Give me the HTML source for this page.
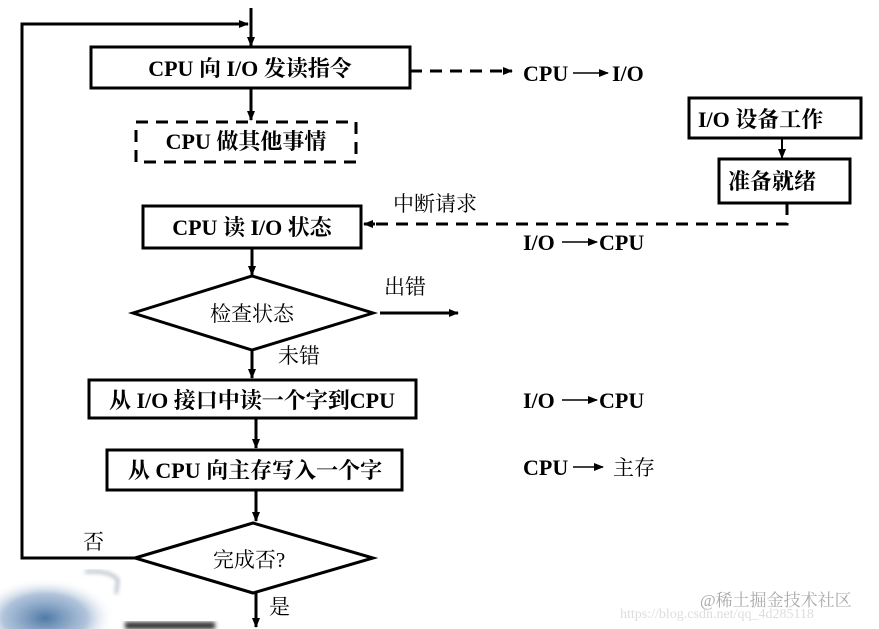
<!DOCTYPE html>
<html><head><meta charset="utf-8"><style>
html,body{margin:0;padding:0;background:#fff;}
svg{display:block;}
text{font-family:"Liberation Serif","Noto Serif CJK SC",serif;fill:#000;}
.b{font-weight:bold;}
</style></head><body>
<svg width="879" height="629" viewBox="0 0 879 629" xmlns="http://www.w3.org/2000/svg">
<defs>
<marker id="a" markerWidth="10" markerHeight="8" refX="9" refY="4" orient="auto" markerUnits="userSpaceOnUse">
<path d="M0,0 L10,4 L0,8 Z" fill="#000"/></marker>
<radialGradient id="g" cx="0.5" cy="0.5" r="0.5"><stop offset="0" stop-color="#4f79a6"/><stop offset="0.6" stop-color="#8eaacb" stop-opacity="0.7"/><stop offset="1" stop-color="#fff" stop-opacity="0"/></radialGradient>
<filter id="bl"><feGaussianBlur stdDeviation="2"/></filter>
</defs>
<ellipse cx="45" cy="618" rx="70" ry="40" fill="url(#g)"/>
<path d="M85,572 Q110,570 118,580 L116,594" fill="none" stroke="#8a98a8" stroke-width="2" filter="url(#bl)"/>
<rect x="125" y="622" width="90" height="7" fill="#333" filter="url(#bl)"/>
<g stroke="#000" stroke-width="3" fill="none">
<polyline points="135,558 22,558 22,24 246,24" />
<line x1="22" y1="24" x2="248" y2="24" marker-end="url(#a)"/>
<line x1="251" y1="8" x2="251" y2="46" marker-end="url(#a)"/>
<rect x="91" y="47" width="319" height="41"/>
<line x1="251" y1="88" x2="251" y2="120" marker-end="url(#a)"/>
<rect x="136" y="122" width="220" height="40" stroke-dasharray="12,8"/>
<line x1="410" y1="71" x2="512" y2="71" stroke-dasharray="12,8" marker-end="url(#a)"/>
<rect x="689" y="98" width="172" height="40"/>
<line x1="782" y1="138" x2="782" y2="158" stroke-width="2" marker-end="url(#a)"/>
<rect x="719" y="159" width="131" height="44"/>
<polyline points="787,203 787,224 365,224" stroke-dasharray="12,8"/>
<line x1="375" y1="224" x2="364" y2="224" marker-end="url(#a)"/>
<rect x="143" y="206" width="218" height="42"/>
<line x1="252" y1="248" x2="252" y2="275" marker-end="url(#a)"/>
<polygon points="133,313 252,276 373,313 252,350"/>
<line x1="380" y1="313" x2="458" y2="313" marker-end="url(#a)"/>
<line x1="252" y1="350" x2="252" y2="378" marker-end="url(#a)"/>
<rect x="89" y="380" width="327" height="38"/>
<line x1="256" y1="418" x2="256" y2="448" marker-end="url(#a)"/>
<rect x="107" y="450" width="295" height="40"/>
<line x1="256" y1="490" x2="256" y2="521" marker-end="url(#a)"/>
<polygon points="135,558 253,523 373,558 253,593"/>
<line x1="256" y1="593" x2="256" y2="627" marker-end="url(#a)"/>
</g>
<g stroke="#000" stroke-width="1.5">
<line x1="573" y1="73" x2="608" y2="73" marker-end="url(#a)"/>
<line x1="562" y1="242" x2="597" y2="242" marker-end="url(#a)"/>
<line x1="562" y1="400" x2="597" y2="400" marker-end="url(#a)"/>
<line x1="573" y1="467" x2="603" y2="467" marker-end="url(#a)"/>
</g>
<g font-size="22">
<text x="250" y="76" text-anchor="middle" class="b">CPU 向 I/O 发读指令</text>
<text x="246" y="149" text-anchor="middle" class="b">CPU 做其他事情</text>
<text x="252" y="235" text-anchor="middle" class="b">CPU 读 I/O 状态</text>
<text x="252" y="321" text-anchor="middle" font-size="21">检查状态</text>
<text x="252" y="408" text-anchor="middle" class="b">从 I/O 接口中读一个字到CPU</text>
<text x="255" y="478" text-anchor="middle" class="b">从 CPU 向主存写入一个字</text>
<text x="249" y="567" text-anchor="middle" font-size="21">完成否?</text>
<text x="523" y="81" class="b">CPU</text><text x="612" y="81" class="b">I/O</text>
<text x="698" y="127" class="b">I/O 设备工作</text>
<text x="728" y="189" class="b">准备就绪</text>
<text x="393" y="211" font-size="21">中断请求</text>
<text x="523" y="250" class="b">I/O</text><text x="599" y="250" class="b">CPU</text>
<text x="384" y="294" font-size="21">出错</text>
<text x="278" y="363" font-size="21">未错</text>
<text x="523" y="408" class="b">I/O</text><text x="599" y="408" class="b">CPU</text>
<text x="523" y="475" class="b">CPU</text><text x="613" y="475" font-size="21">主存</text>
<text x="83" y="549" font-size="21">否</text>
<text x="269" y="614" font-size="21">是</text>
</g>
<text x="700" y="606" font-size="17" style="fill:#aaa">@稀土掘金技术社区</text>
<text x="620" y="618" font-size="14" style="fill:#ddd">https://blog.csdn.net/qq_4d285118</text>
</svg>
</body></html>
